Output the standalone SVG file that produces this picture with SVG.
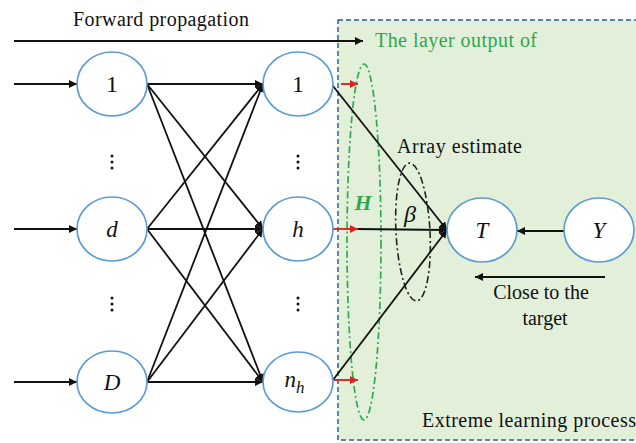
<svg xmlns="http://www.w3.org/2000/svg" width="636" height="443" viewBox="0 0 636 443">
<style>
.node{fill:#fff;stroke:#5b9bd5;stroke-width:1.7}
.lbl{font-family:"Liberation Serif",serif;font-size:23px;font-style:italic;text-anchor:middle;fill:#111}
.txt{font-family:"Liberation Serif",serif;font-size:20px;fill:#111}
.ln{stroke:#111;stroke-width:1.8;fill:none}
.red{stroke:#d9261c;stroke-width:1.9;fill:none}
.dot{fill:#111}
</style>
<defs>
<marker id="ah" viewBox="0 0 10 10" refX="10" refY="5" markerWidth="8" markerHeight="8" markerUnits="userSpaceOnUse" orient="auto">
<path d="M0,0 L10,5 L0,10 Z" fill="#111"/>
</marker>
<marker id="ahr" viewBox="0 0 10 10" refX="10" refY="5" markerWidth="8" markerHeight="8" markerUnits="userSpaceOnUse" orient="auto">
<path d="M0,0 L10,5 L0,10 Z" fill="#d9261c"/>
</marker>
</defs>
<rect width="636" height="443" fill="#fff"/>
<g id="elm-region">
<rect x="338" y="20" width="310" height="420" fill="#e2efd9" stroke="#2e5c9a" stroke-width="1.5" stroke-dasharray="5,3"/>
<ellipse cx="364" cy="242" rx="17" ry="178" fill="none" stroke="#33a852" stroke-width="1.7" stroke-dasharray="7,3,2,3"/>
<ellipse cx="413" cy="232" rx="17" ry="69" fill="none" stroke="#222" stroke-width="1.6" stroke-dasharray="7,3,2,3" transform="rotate(-3 413 232)"/>
</g>
<g id="connectors">
<line class="ln" x1="14" y1="41" x2="363" y2="41" marker-end="url(#ah)"/>
<line class="ln" x1="14" y1="84" x2="77" y2="84" marker-end="url(#ah)"/>
<line class="ln" x1="14" y1="229" x2="77" y2="229" marker-end="url(#ah)"/>
<line class="ln" x1="14" y1="382" x2="77" y2="382" marker-end="url(#ah)"/>
<line class="ln" x1="147" y1="84" x2="263" y2="84" marker-end="url(#ah)"/>
<line class="ln" x1="147" y1="84" x2="263" y2="229" marker-end="url(#ah)"/>
<line class="ln" x1="147" y1="84" x2="263" y2="382" marker-end="url(#ah)"/>
<line class="ln" x1="147" y1="229" x2="263" y2="84" marker-end="url(#ah)"/>
<line class="ln" x1="147" y1="229" x2="263" y2="229" marker-end="url(#ah)"/>
<line class="ln" x1="147" y1="229" x2="263" y2="382" marker-end="url(#ah)"/>
<line class="ln" x1="147" y1="382" x2="263" y2="84" marker-end="url(#ah)"/>
<line class="ln" x1="147" y1="382" x2="263" y2="229" marker-end="url(#ah)"/>
<line class="ln" x1="147" y1="382" x2="263" y2="382" marker-end="url(#ah)"/>
<line class="ln" x1="333" y1="86" x2="447" y2="230" marker-end="url(#ah)"/>
<line class="ln" x1="356" y1="229" x2="447" y2="230" marker-end="url(#ah)"/>
<line class="ln" x1="333" y1="380" x2="447" y2="230" marker-end="url(#ah)"/>
<line class="red" x1="341" y1="84" x2="358" y2="84" marker-end="url(#ahr)"/>
<line class="red" x1="333" y1="229" x2="358" y2="229" marker-end="url(#ahr)"/>
<line class="red" x1="334" y1="380" x2="358" y2="380" marker-end="url(#ahr)"/>
<line class="ln" x1="564" y1="231" x2="517" y2="231" marker-end="url(#ah)"/>
<line class="ln" x1="605" y1="277" x2="475" y2="277" marker-end="url(#ah)"/>
</g>
<g id="in-1"><ellipse class="node" cx="112" cy="84" rx="35" ry="32"/><text class="lbl" x="112" y="92" style="font-style:normal;font-size:24px">1</text></g>
<g id="in-d"><ellipse class="node" cx="112" cy="229" rx="35" ry="32"/><text class="lbl" x="112" y="237">d</text></g>
<g id="in-D"><ellipse class="node" cx="112" cy="382" rx="35" ry="31"/><text class="lbl" x="112" y="390">D</text></g>
<g id="hid-1"><ellipse class="node" cx="298" cy="84" rx="35" ry="32"/><text class="lbl" x="298" y="92" style="font-style:normal;font-size:24px">1</text></g>
<g id="hid-h"><ellipse class="node" cx="298" cy="229" rx="35" ry="32"/><text class="lbl" x="298" y="237">h</text></g>
<g id="hid-nh"><ellipse class="node" cx="298" cy="382" rx="35" ry="30"/><text class="lbl" x="296" y="387" style="text-anchor:end">n</text><text class="lbl" x="296" y="393" style="text-anchor:start;font-size:17px">h</text></g>
<g id="out-T"><ellipse class="node" cx="482" cy="230" rx="35" ry="32"/><text class="lbl" x="482" y="238">T</text></g>
<g id="out-Y"><ellipse class="node" cx="599" cy="230" rx="35" ry="32"/><text class="lbl" x="599" y="238">Y</text></g>
<g id="ellipsis">
<circle class="dot" cx="112" cy="156" r="1.5"/><circle class="dot" cx="112" cy="162" r="1.5"/><circle class="dot" cx="112" cy="168" r="1.5"/>
<circle class="dot" cx="112" cy="298" r="1.5"/><circle class="dot" cx="112" cy="304" r="1.5"/><circle class="dot" cx="112" cy="310" r="1.5"/>
<circle class="dot" cx="298" cy="156" r="1.5"/><circle class="dot" cx="298" cy="162" r="1.5"/><circle class="dot" cx="298" cy="168" r="1.5"/>
<circle class="dot" cx="298" cy="298" r="1.5"/><circle class="dot" cx="298" cy="304" r="1.5"/><circle class="dot" cx="298" cy="310" r="1.5"/>
</g>
<g id="labels">
<text class="txt" x="73" y="26" textLength="176">Forward propagation</text>
<text class="txt" x="375" y="47" textLength="162" style="fill:#2ea84e">The layer output of</text>
<text class="txt" x="397" y="153" textLength="125">Array estimate</text>
<text class="txt" x="541" y="299" text-anchor="middle">Close to the</text>
<text class="txt" x="545" y="325" text-anchor="middle">target</text>
<text class="txt" x="422" y="427" textLength="214">Extreme learning process</text>
<text x="363" y="210" style="font-family:'Liberation Serif',serif;font-size:22px;font-style:italic;font-weight:bold;fill:#2ea84e;text-anchor:middle">H</text>
<text x="410" y="222" style="font-family:'Liberation Serif',serif;font-size:24px;font-style:italic;fill:#111;text-anchor:middle">β</text>
</g>
</svg>
